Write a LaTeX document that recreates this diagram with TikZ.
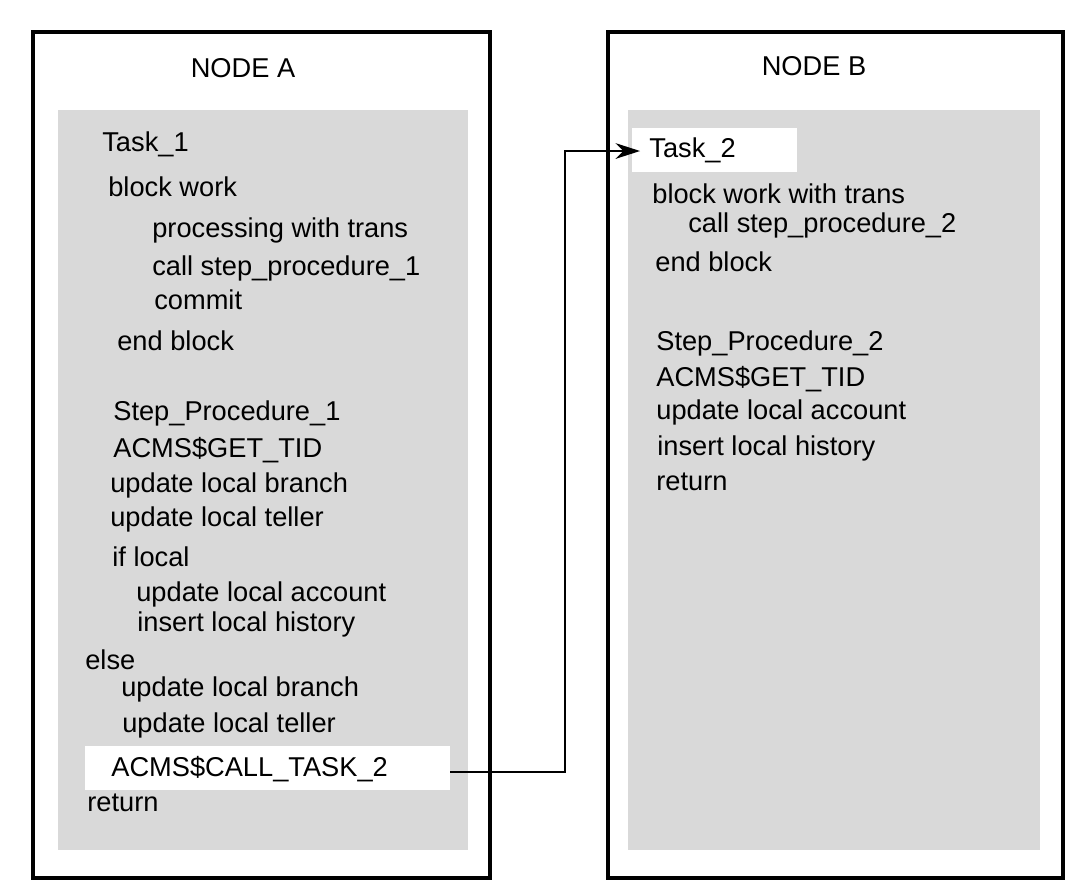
\documentclass[tikz,border=0pt]{standalone}
\usepackage{fontspec}
\setmainfont{Liberation Sans}
\usetikzlibrary{arrows.meta}
\begin{document}
\begin{tikzpicture}[x=0.02cm,y=-0.02cm,
  line/.style={anchor=west,inner sep=0pt,font=\fontsize{15.5}{18}\selectfont},
  frame/.style={draw=black,line width=1.8pt},
  panel/.style={fill=black!15,draw=none}]
  \useasboundingbox (0,0) rectangle (1084,887);

  % Frames and panels
  \draw[frame] (33,32) rectangle (490,878);
  \fill[panel] (58,110) rectangle (468,850);
  \draw[frame] (608,32) rectangle (1063,878);
  \fill[panel] (628,110) rectangle (1040,850);
  \fill[white] (85,746) rectangle (450,790);
  \fill[white] (632,128) rectangle (797,172);

  \node[font=\fontsize{15.5}{18}\selectfont] (na) at (243,68) {NODE A};
  \node[font=\fontsize{15.5}{18}\selectfont] (nb) at (814,66) {NODE B};

  % Node A text
  \node[line] (a1) at (102,144) {Task\_1};
  \node[line] (a2) at (108,187) {block work};
  \node[line] (a3) at (152,230) {processing with trans};
  \node[line] (a4) at (152,268) {call step\_procedure\_1};
  \node[line] (a5) at (154,300) {commit};
  \node[line] (a6) at (117,341) {end block};
  \node[line] (a7) at (113,413) {Step\_Procedure\_1};
  \node[line] (a8) at (113,450) {ACMS\$GET\_TID};
  \node[line] (a9) at (110,485) {update local branch};
  \node[line] (a10) at (110,519) {update local teller};
  \node[line] (a11) at (112,557) {if local};
  \node[line] (a12) at (136,594) {update local account};
  \node[line] (a13) at (137,624) {insert local history};
  \node[line] (a14) at (85,660) {else};
  \node[line] (a15) at (121,689) {update local branch};
  \node[line] (a16) at (122,725) {update local teller};
  \node[line] (call) at (111,769) {ACMS\$CALL\_TASK\_2};
  \node[line] (a17) at (87,803) {return};

  % Node B text
  \node[line] (task) at (649,150) {Task\_2};
  \node[line] (b2) at (652,194) {block work with trans};
  \node[line] (b3) at (688,225) {call step\_procedure\_2};
  \node[line] (b4) at (655,262) {end block};
  \node[line] (b5) at (656,343) {Step\_Procedure\_2};
  \node[line] (b6) at (656,379) {ACMS\$GET\_TID};
  \node[line] (b7) at (656,412) {update local account};
  \node[line] (b8) at (657,448) {insert local history};
  \node[line] (b9) at (656,482) {return};

  % The call
  \coordinate (out) at (450,772);
  \coordinate (in) at (640,151);
  \draw[line width=0.8pt,-{Stealth[length=14pt,width=9pt]}] (out) -- (565,772) |- (in);
\end{tikzpicture}
\end{document}
